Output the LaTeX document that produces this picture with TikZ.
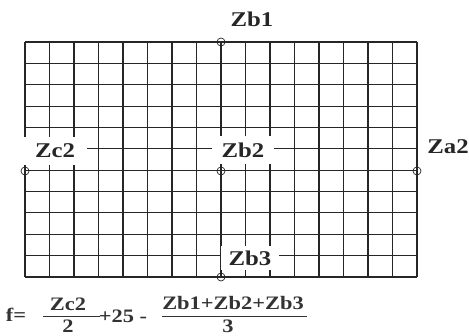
\documentclass[tikz,border=0pt]{standalone}
\usepackage{fontspec}
\setmainfont{Liberation Serif}
\newfontfamily\stretchedfont[FakeStretch=1.18]{Liberation Serif}

\begin{document}
\begin{tikzpicture}[x=1pt,y=-1pt]
    \tikzstyle{gridline}=[black!85, line width=1.1pt]
    \tikzstyle{pin}=[circle, draw=black!85, line width=0.7pt, fill=none, inner sep=0pt, minimum size=8pt]
    \tikzstyle{label}=[font=\stretchedfont\bfseries\fontsize{21}{21}\selectfont, text=black!85, inner sep=0pt]
    \tikzstyle{boxed}=[label, fill=white]
    \tikzstyle{formula}=[font=\stretchedfont\bfseries\fontsize{19}{19}\selectfont, text=black!80, inner sep=0pt]
    \tikzstyle{bar}=[black!80, line width=0.9pt]

    \useasboundingbox (0,0) rectangle (469,336);

    % grid
    \foreach \i in {0,...,16}
        \draw[gridline] ({25+24.5*\i},42) -- ({25+24.5*\i},277);
    \foreach \j in {0,...,11}
        \draw[gridline] (25,{42+235/11*\j}) -- (417,{42+235/11*\j});

    % labels
    \node[label] (zb1) at (252,19) {Zb1};
    \node[boxed, minimum width=64pt, minimum height=28pt] (zc2) at (55,151) {Zc2};
    \node[boxed, minimum width=62pt, minimum height=28pt] (zb2) at (243,150) {Zb2};
    \node[label] (za2) at (448,147) {Za2};
    \node[boxed, minimum width=58pt, minimum height=24pt] (zb3) at (250,258) {Zb3};

    % measuring points
    \node[pin] (b1) at (221,42) {};
    \node[pin] (c2) at (25,171) {};
    \node[pin] (b2) at (221,171) {};
    \node[pin] (a2) at (417,171) {};
    \node[pin] (b3) at (221,277) {};

    % formula
    \node[formula] (f) at (16,315) {f=};
    \node[formula] (num1) at (68,304) {Zc2};
    \node[formula] (den1) at (68,326) {2};
    \node[formula] (mid) at (123,316) {+25 -};
    \node[formula] (num2) at (233,303) {Zb1+Zb2+Zb3};
    \node[formula] (den2) at (228,326) {3};
    \coordinate (bar1l) at (43,316);
    \coordinate (bar1r) at (100,316);
    \coordinate (bar2l) at (162,316);
    \coordinate (bar2r) at (307,316);
    \draw[bar] (bar1l) -- (bar1r);
    \draw[bar] (bar2l) -- (bar2r);
\end{tikzpicture}
\end{document}
